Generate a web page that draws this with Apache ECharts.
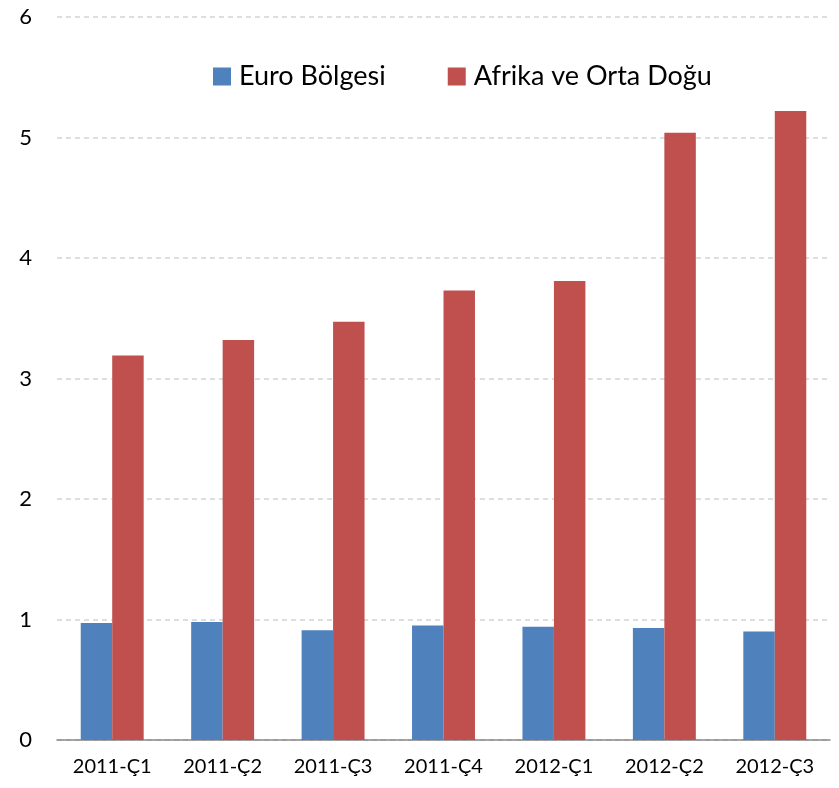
<!DOCTYPE html>
<html>
<head>
<meta charset="utf-8">
<script src="https://cdn.jsdelivr.net/npm/echarts@6/dist/echarts.min.js"></script>
<style>
  html, body { margin: 0; padding: 0; background: #fff; }
  #chart { width: 839px; height: 788px; }
</style>
</head>
<body>
<div id="chart"></div>
<script>
const categories = ['2011-Ç1', '2011-Ç2', '2011-Ç3', '2011-Ç4', '2012-Ç1', '2012-Ç2', '2012-Ç3']
const euroValues = [0.97, 0.98, 0.91, 0.95, 0.94, 0.93, 0.90]
const afrikaValues = [3.19, 3.32, 3.47, 3.73, 3.81, 5.04, 5.22]
const seriesNames = ['Euro Bölgesi', 'Afrika ve Orta Doğu']

const font = 'Lato, "Open Sans", sans-serif'

const chart = echarts.init(document.getElementById('chart'))
chart.setOption({
  animation: false,
  textStyle: { fontFamily: font },
  grid: { left: 57, right: 9, top: 17, bottom: 48 },
  legend: {
    data: seriesNames,
    top: 58,
    left: 208,
    itemWidth: 18,
    itemHeight: 18,
    itemGap: 62,
    icon: 'rect',
    textStyle: { fontSize: 27, color: '#000', fontFamily: font, padding: [0, 0, 0, 3] }
  },
  xAxis: {
    type: 'category',
    data: categories,
    axisLine: { lineStyle: { color: '#888', width: 1.5 } },
    axisTick: { length: 8, lineStyle: { color: '#888', width: 1.5 } },
    axisLabel: { fontSize: 20, color: '#000', margin: 17, fontFamily: font }
  },
  yAxis: {
    type: 'value',
    min: 0,
    max: 6,
    interval: 1,
    axisLine: { show: false },
    axisTick: { show: false },
    axisLabel: { fontSize: 22, color: '#000', margin: 25, fontFamily: font },
    splitLine: { lineStyle: { type: [5, 4], color: '#d4d4d4', width: 1.5 } }
  },
  series: [
    {
      name: seriesNames[0],
      type: 'bar',
      data: euroValues,
      barGap: '0%',
      barCategoryGap: '43%',
      itemStyle: { color: '#4f81bd' }
    },
    {
      name: seriesNames[1],
      type: 'bar',
      data: afrikaValues,
      itemStyle: { color: '#c0504d' }
    }
  ]
})
</script>
</body>
</html>
